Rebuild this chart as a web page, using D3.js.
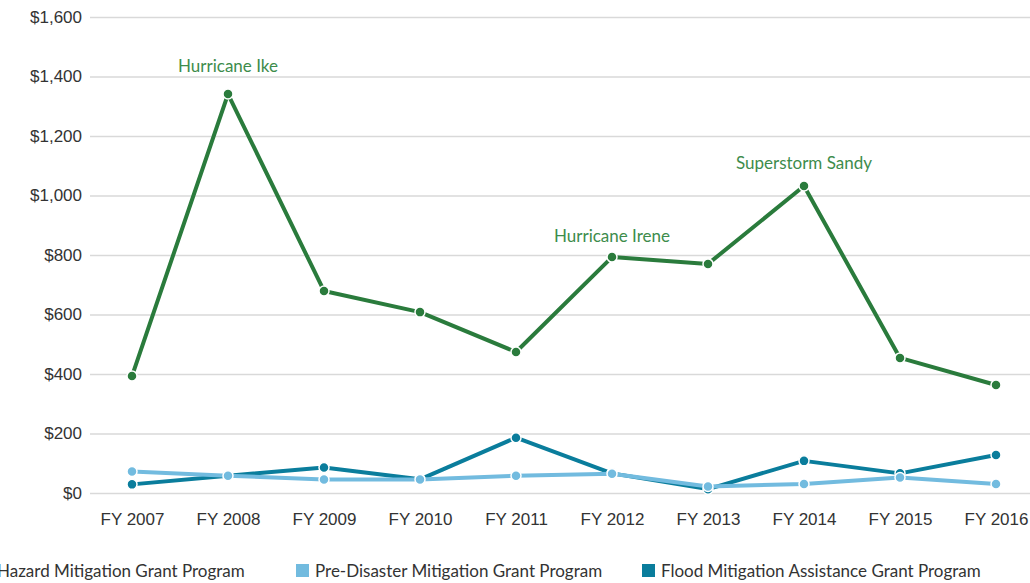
<!DOCTYPE html>
<html>
<head>
<meta charset="utf-8">
<script src="https://cdn.jsdelivr.net/npm/d3@7"></script>
<style>
  html, body { margin: 0; padding: 0; background: #fff; }
  svg { display: block; font-family: Lato, "Open Sans", sans-serif; }
</style>
</head>
<body>
<svg id="chart" width="1030" height="583"></svg>
<script>
// Fiscal years on the x axis
const years = ["FY 2007", "FY 2008", "FY 2009", "FY 2010", "FY 2011",
               "FY 2012", "FY 2013", "FY 2014", "FY 2015", "FY 2016"];

// Grant obligations, millions of dollars
const hazardMitigation = [393, 1341, 679, 608, 474, 793, 770, 1032, 454, 363];
const preDisaster      = [72, 58, 45, 45, 58, 65, 22, 30, 52, 30];
const floodMitigation  = [29, 58, 86, 46, 186, 66, 13, 108, 66, 128];

const seriesNames = ["Hazard Mitigation Grant Program",
                     "Pre-Disaster Mitigation Grant Program",
                     "Flood Mitigation Assistance Grant Program"];

const yTicks = [0, 200, 400, 600, 800, 1000, 1200, 1400, 1600];

// Storm annotations: year and label
const eventYears  = ["FY 2008", "FY 2012", "FY 2014"];
const eventLabels = ["Hurricane Ike", "Hurricane Irene", "Superstorm Sandy"];

// Vertical gap between each storm label and its peak, in pixels
const eventGap = [22, 15, 17];

const colors = {
  hazard: "#2a7b3c",
  pre: "#72bbdf",
  flood: "#0a7d9c",
  label: "#3d8c4c"
};

const svg = d3.select("#chart");
const W = 1030;
const FONT = 17;

const x = d3.scalePoint().domain(years).range([132, 996]);
const y = d3.scaleLinear().domain([0, 1600]).range([493, 17]);

// Horizontal gridlines and dollar labels
const yAxis = d3.axisLeft(y)
  .tickValues(yTicks)
  .tickSize(-(W - 90))
  .tickPadding(8)
  .tickFormat(d => "$" + d3.format(",")(d));

const gy = svg.append("g")
  .attr("transform", "translate(90,0)")
  .call(yAxis);
gy.select(".domain").remove();
gy.selectAll(".tick line").attr("stroke", "#d9d9d9").attr("stroke-width", 1.5);
gy.selectAll(".tick text")
  .attr("fill", "#333")
  .attr("font-size", FONT);

// Year labels
const xAxis = d3.axisBottom(x).tickSize(0).tickPadding(0);
const gx = svg.append("g")
  .attr("transform", "translate(0,513)")
  .call(xAxis);
gx.select(".domain").remove();
gx.selectAll(".tick text")
  .attr("fill", "#333")
  .attr("font-size", FONT);

const line = d3.line()
  .x((d, i) => x(years[i]))
  .y(d => y(d));

function drawSeries(values, color) {
  const g = svg.append("g");
  g.append("path")
    .datum(values)
    .attr("d", line)
    .attr("fill", "none")
    .attr("stroke", color)
    .attr("stroke-width", 4)
    .attr("stroke-linejoin", "round");
  g.selectAll("circle")
    .data(values)
    .join("circle")
    .attr("cx", (d, i) => x(years[i]))
    .attr("cy", d => y(d))
    .attr("r", 5)
    .attr("fill", color)
    .attr("stroke", "#fff")
    .attr("stroke-width", 1.5);
}

drawSeries(hazardMitigation, colors.hazard);
drawSeries(floodMitigation, colors.flood);
drawSeries(preDisaster, colors.pre);

// Storm labels above their peaks
svg.append("g")
  .selectAll("text")
  .data(eventYears)
  .join("text")
  .attr("x", d => x(d))
  .attr("y", (d, i) => y(hazardMitigation[years.indexOf(d)]) - eventGap[i])
  .attr("text-anchor", "middle")
  .attr("fill", colors.label)
  .attr("font-size", FONT)
  .text((d, i) => eventLabels[i]);

// Legend (the first entry runs off the left edge)
const legendColors = [colors.hazard, colors.pre, colors.flood];
const legendX = [-22, 296, 642];
const legend = svg.append("g").attr("transform", "translate(0,564)");
const items = legend.selectAll("g")
  .data(seriesNames)
  .join("g")
  .attr("transform", (d, i) => `translate(${legendX[i]},0)`);
items.append("rect")
  .attr("width", 13).attr("height", 13)
  .attr("fill", (d, i) => legendColors[i]);
items.append("text")
  .attr("x", 19).attr("y", 12.5)
  .attr("fill", "#333")
  .attr("font-size", FONT)
  .text(d => d);
</script>
</body>
</html>
